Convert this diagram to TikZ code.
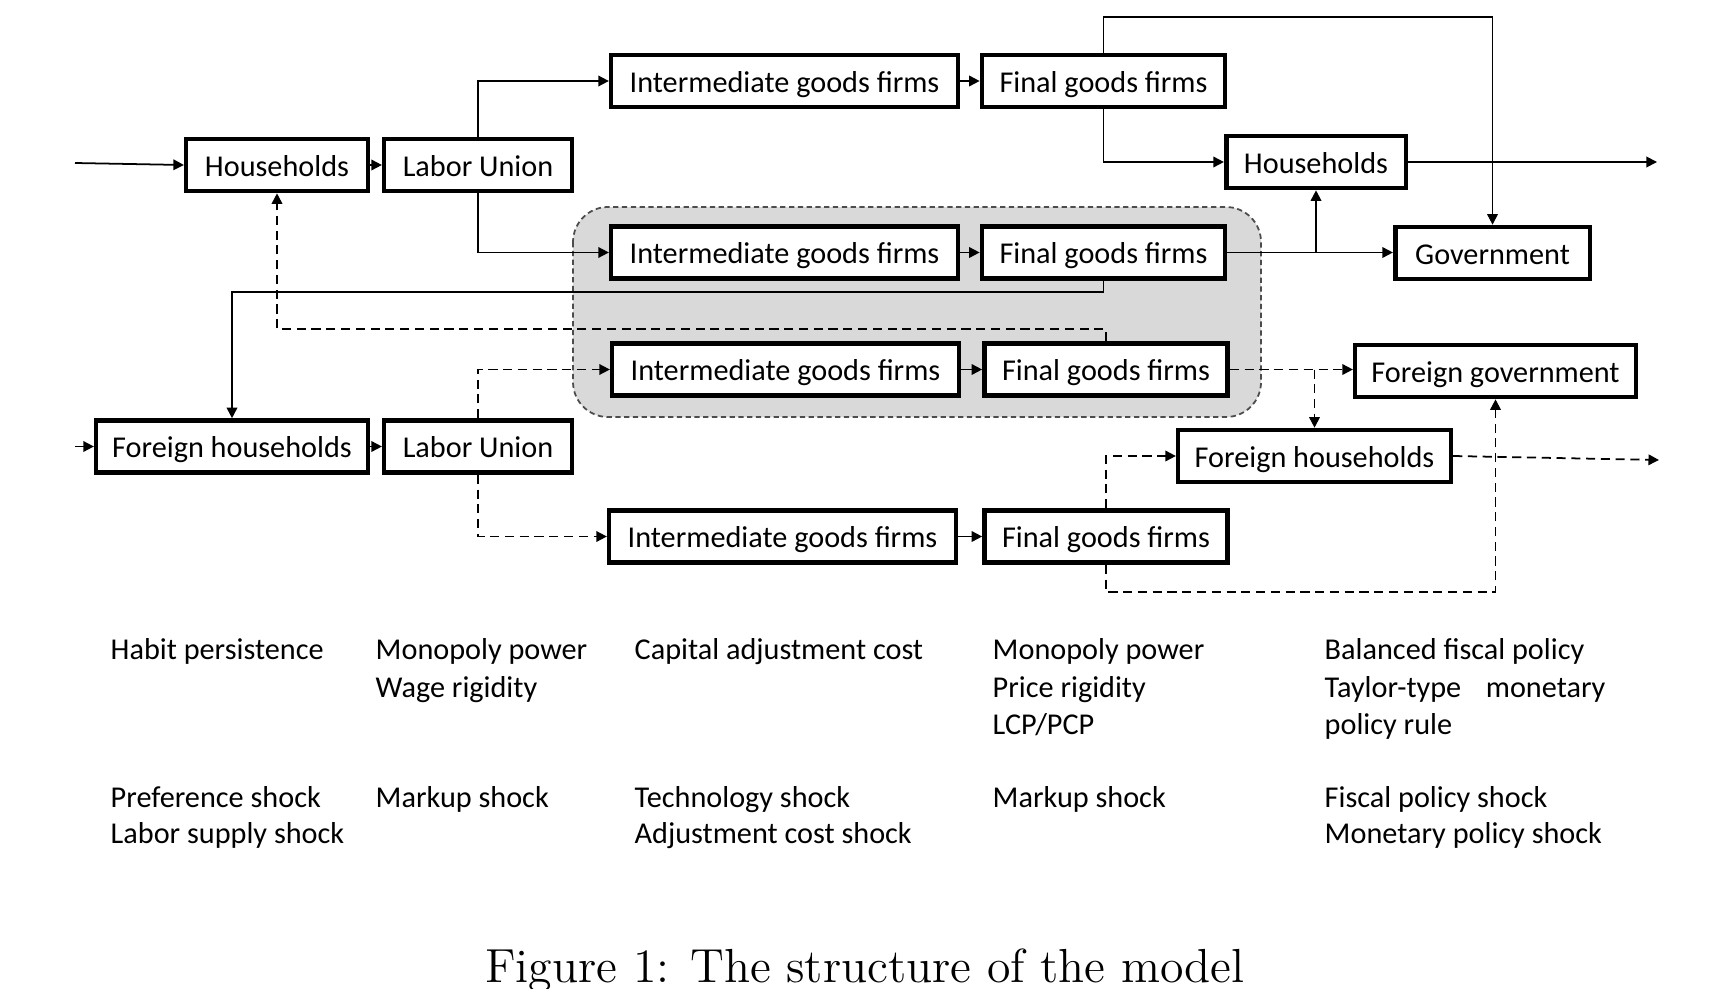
\documentclass[tikz,border=0pt]{standalone}
\usepackage{fontspec}
\newfontfamily\boxfont{Carlito}
\usetikzlibrary{arrows.meta}

\tikzset{
  agent/.style={draw=black, line width=1.3pt, fill=white, inner sep=0pt,
    minimum height=0.52cm, text height=7.8pt, text depth=1.4pt,
    font=\boxfont\fontsize{8.6}{10}\selectfont},
  flow/.style={line width=0.5pt, -{Triangle[length=3pt,width=3pt]}},
  dflow/.style={flow, dash pattern=on 2.6pt off 1.6pt},
  note/.style={anchor=base west, inner sep=0pt, font=\boxfont\fontsize{8.6}{10}\selectfont},
}

\begin{document}
\begin{tikzpicture}[x=0.01cm, y=-0.01cm]
\useasboundingbox (0,0) rectangle (1731,988);

% shaded block
\draw[black!70, fill=black!15, line width=0.5pt, dash pattern=on 1.5pt off 1pt,
  rounded corners=0.35cm] (573,207) rectangle (1261,417);

\node[agent, minimum width=1.815cm] (hh) at (277,165) {Households};
\node[agent, minimum width=1.875cm] (lu) at (478,165) {Labor Union};
\node[agent, minimum width=3.465cm] (ig1) at (784.5,81) {Intermediate goods firms};
\node[agent, minimum width=2.43cm] (fg1) at (1103.5,81) {Final goods firms};
\node[agent, minimum width=1.795cm] (hhr) at (1316,162) {Households};
\node[agent, minimum width=3.465cm] (ig2) at (784.5,252.5) {Intermediate goods firms};
\node[agent, minimum width=2.43cm] (fg2) at (1103.5,252.5) {Final goods firms};
\node[agent, minimum width=1.945cm] (gov) at (1492.5,253) {Government};
\node[agent, minimum width=3.465cm] (ig3) at (785.5,369.5) {Intermediate goods firms};
\node[agent, minimum width=2.43cm] (fg3) at (1106,369.5) {Final goods firms};
\node[agent, minimum width=2.805cm] (fgov) at (1495.5,371) {Foreign government};
\node[agent, minimum width=2.715cm] (fh) at (232,446.5) {Foreign households};
\node[agent, minimum width=1.875cm] (lu2) at (478,446.5) {Labor Union};
\node[agent, minimum width=2.725cm] (fhr) at (1314.5,456) {Foreign households};
\node[agent, minimum width=3.465cm] (ig4) at (782.5,536.5) {Intermediate goods firms};
\node[agent, minimum width=2.43cm] (fg4) at (1106,536.5) {Final goods firms};

\coordinate (hhin) at (75,163);
\coordinate (fhin) at (75,446.5);
\coordinate (hhout) at (1657,162);
\coordinate (fhout) at (1659,460);
\coordinate (top) at (0,17);
\coordinate (upline) at (0,292);
\coordinate (dline) at (0,329);
\coordinate (bline) at (0,592);

% home economy
\draw[flow] (hhin) -- (hh.west);
\draw[flow] (hh) -- (lu);
\draw[flow] (lu.north) |- (ig1.west);
\draw[flow] (lu.south) |- (ig2.west);
\draw[flow] (ig1) -- (fg1);
\draw[flow] (ig2) -- (fg2);
\draw[flow] (fg1.north) -- (fg1.north |- top) -| (gov.north);
\draw[flow] (fg1.south) |- (hhr.west);
\draw[flow] (hhr.east) -- (hhout);
\draw[flow] (fg2.east) -- (gov.west |- fg2.east);
\draw[flow] (hhr.south |- fg2.east) -- (hhr.south);
\draw[flow] (fg2.south) -- (fg2.south |- upline) -| (fh.north);

% foreign economy
\draw[flow] (fhin) -- (fh.west);
\draw[flow] (fh) -- (lu2);
\draw[dflow] (lu2.north) |- (ig3.west);
\draw[dflow] (lu2.south) |- (ig4.west);
\draw[flow] (ig3) -- (fg3);
\draw[flow] (ig4) -- (fg4);
\draw[dflow] (fg3.north) -- (fg3.north |- dline) -| (hh.south);
\draw[dflow] (fg3.east) -- (fgov.west |- fg3.east);
\draw[dflow] (fhr.north |- fg3.east) -- (fhr.north);
\draw[dflow] (fg4.north) |- (fhr.west);
\draw[dflow] (fhr.east) -- (fhout);
\draw[dflow] (fg4.south) -- (fg4.south |- bline) -| (fgov.south);

% frictions and shocks
\foreach \x/\y/\txt [count=\i] in {
  110/659/Habit persistence, 110/807/Preference shock, 110/843/Labor supply shock,
  375/659/Monopoly power, 375/697/Wage rigidity, 375/807/Markup shock,
  634/659/Capital adjustment cost, 634/807/Technology shock, 634/843/Adjustment cost shock,
  992/659/Monopoly power, 992/697/Price rigidity, 992/734/{LCP/PCP}, 992/807/Markup shock,
  1324/659/Balanced fiscal policy, 1324/697/{Taylor-type\hspace{7pt}monetary},
  1324/734/policy rule, 1324/807/Fiscal policy shock, 1324/843/Monetary policy shock}
  \node[note] (note\i) at (\x,\y) {\txt};

\node[anchor=base, inner sep=0pt, font=\fontsize{13.6}{16}\selectfont] (caption) at (865,982)
  {Figure 1: The structure of the model};
\end{tikzpicture}
\end{document}
